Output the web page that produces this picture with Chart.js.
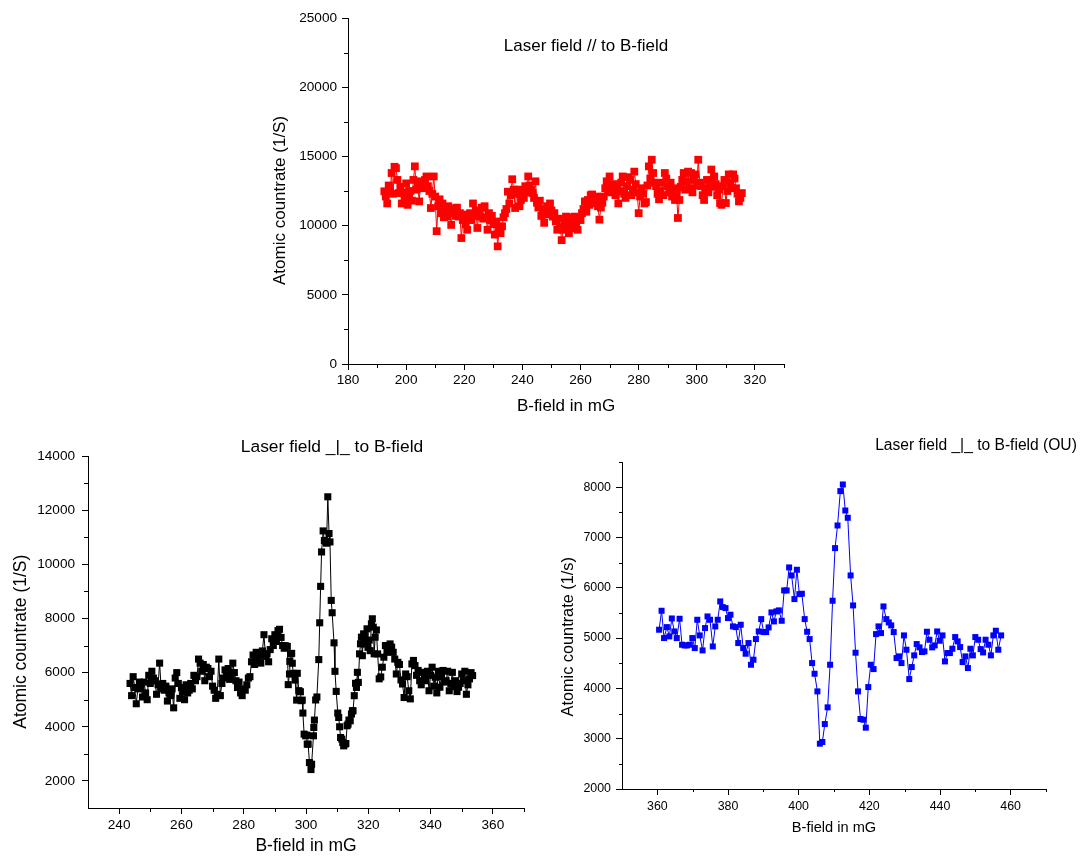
<!DOCTYPE html>
<html><head><meta charset="utf-8">
<script src="https://cdn.jsdelivr.net/npm/chart.js@4.4.1/dist/chart.umd.min.js"></script>
<style>
html,body{margin:0;padding:0;background:#fff;}
#wrap{position:relative;width:1080px;height:857px;overflow:hidden;background:#fff;}
canvas{position:absolute;}
</style></head><body>
<div id="wrap">
<canvas id="cA" width="560" height="430" style="left:250px;top:0px"></canvas>
<canvas id="cB" width="540" height="427" style="left:0px;top:430px"></canvas>
<canvas id="cC" width="540" height="427" style="left:540px;top:430px"></canvas>
</div>
<script>
// ---------- Panel 1: Laser field // to B-field ----------
const parallelField = [
192.5,193,193.5,194,194.5,195,195.5,196,196.5,197,
197.5,198,198.5,199,199.5,200,200.5,201,201.5,202,
202.5,203,203.5,204,204.5,205,205.5,206,206.5,207,
207.5,208,208.5,209,209.5,210,210.5,211,211.5,212,
212.5,213,213.5,214,214.5,215,215.5,216,216.5,217,
217.5,218,218.5,219,219.5,220,220.5,221,221.5,222,
222.5,223,223.5,224,224.5,225,225.5,226,226.5,227,
227.5,228,228.5,229,229.5,230,230.5,231,231.5,232,
232.5,233,233.5,234,234.5,235,235.5,236,236.5,237,
237.5,238,238.5,239,239.5,240,240.5,241,241.5,242,
242.5,243,243.5,244,244.5,245,245.5,246,246.5,247,
247.5,248,248.5,249,249.5,250,250.5,251,251.5,252,
252.5,253,253.5,254,254.5,255,255.5,256,256.5,257,
257.5,258,258.5,259,259.5,260,260.5,261,261.5,262,
262.5,263,263.5,264,264.5,265,265.5,266,266.5,267,
267.5,268,268.5,269,269.5,270,270.5,271,271.5,272,
272.5,273,273.5,274,274.5,275,275.5,276,276.5,277,
277.5,278,278.5,279,279.5,280,280.5,281,281.5,282,
282.5,283,283.5,284,284.5,285,285.5,286,286.5,287,
287.5,288,288.5,289,289.5,290,290.5,291,291.5,292,
292.5,293,293.5,294,294.5,295,295.5,296,296.5,297,
297.5,298,298.5,299,299.5,300,300.5,301,301.5,302,
302.5,303,303.5,304,304.5,305,305.5,306,306.5,307,
307.5,308,308.5,309,309.5,310,310.5,311,311.5,312,
312.5,313,313.5,314,314.5,315,315.5];
const parallelRate = [
12480,12100,11600,12900,12450,13800,12300,14250,14150,13300,
12350,12800,11600,12400,11850,13050,11500,12100,12500,11800,
13300,14280,12600,13000,11750,13200,12700,12950,13300,13550,
12850,12500,11270,12300,13550,12100,9600,11400,11900,10900,
11600,10600,11200,10650,11400,11100,10050,10900,11250,10700,
11300,10650,10900,9100,10400,10800,10100,9700,10500,10900,
10400,11600,10700,11100,9830,10800,10650,11300,10500,11400,
10600,9700,10900,10400,10700,10100,9350,10300,8500,9800,
9450,9950,10600,10900,11200,12450,11600,12200,13350,12600,
11270,12300,12600,11400,11850,12500,12000,12850,12400,13550,
12900,12600,12350,12000,13200,11650,11300,11800,10700,11200,
10200,11000,11400,10800,11600,11100,10650,10900,10300,9700,
10500,9900,8950,9700,10300,10650,9900,9450,10200,10600,
9800,10650,10100,9700,10500,10400,10900,11200,11750,11000,
11850,11500,12200,12250,11600,11850,12100,11400,10430,11300,
11650,12100,12700,13200,12400,13550,12900,12600,13000,12200,
12800,11600,12500,13100,13550,12300,12000,12850,13500,13300,
12200,12600,13900,13000,12400,10900,12100,12700,12300,11600,
11700,12900,14280,13400,14760,13800,13100,12850,12300,11900,
12500,13100,12200,13800,13400,12850,12400,13100,12100,12700,
11850,12400,10550,11850,12800,13300,13800,12600,13200,13900,
12700,13800,12400,13300,13700,12900,14760,13100,12850,12200,
11850,12700,13300,12400,13200,14050,12800,13550,13000,12200,
12600,11630,11500,12850,13300,11630,12500,13700,13100,12700,
13700,13400,12700,12300,11750,12000,12350];
const parallelXTicks = [180,200,220,240,260,280,300,320];
const parallelYTicks = [0,5000,10000,15000,20000,25000];

// ---------- Panel 2: Laser field _|_ to B-field ----------
const perpField = [
243.5,244,244.5,245,245.5,246,246.5,247,247.5,248,
248.5,249,249.5,250,250.5,251,251.5,252,252.5,253,
253.5,254,254.5,255,255.5,256,256.5,257,257.5,258,
258.5,259,259.5,260,260.5,261,261.5,262,262.5,263,
263.5,264,264.5,265,265.5,266,266.5,267,267.5,268,
268.5,269,269.5,270,270.5,271,271.5,272,272.5,273,
273.5,274,274.5,275,275.5,276,276.5,277,277.5,278,
278.5,279,279.5,280,280.5,281,281.5,282,282.5,283,
283.5,284,284.5,285,285.5,286,286.5,287,287.5,288,
288.5,289,289.5,290,290.5,291,291.5,292,292.5,293,
293.3,294.0,294.3,294.7,294.8,295.1,295.4,295.6,295.9,296.2,
296.5,297.0,297.2,297.7,298.2,298.5,298.8,299.0,299.4,299.9,
300.2,300.4,300.7,301.1,301.6,301.8,302.4,302.5,302.7,303.1,
303.5,304.1,304.4,304.7,305.0,305.5,305.9,306.3,306.6,307.0,
307.4,307.7,308.1,308.4,309.0,309.3,309.7,310.2,310.5,310.8,
311.1,311.5,311.8,312.1,312.5,312.8,313.2,313.5,313.8,314.2,
314.6,314.9,315.1,315.5,315.9,316.2,316.5,316.8,317.2,317.5,
317.8,318.1,318.5,318.8,319.1,319.6,319.9,320.3,320.6,321.0,
321.3,321.6,321.9,322.2,322.6,
323,323.5,324,324.5,325,325.5,326,326.5,327,327.5,
328,328.5,329,329.5,330,330.5,331,331.5,332,332.5,
333,333.5,334,334.5,335,335.5,336,336.5,337,337.5,
338,338.5,339,339.5,340,340.5,341,341.5,342,342.5,
343,343.5,344,344.5,345,345.5,346,346.5,347,347.5,
348,348.5,349,349.5,350,350.5,351,351.5,352,352.5,
353,353.5];
const perpRate = [
5600,5150,5850,5450,4850,5400,5650,5450,5100,5650,
5250,5000,5900,5600,6050,5800,5700,5200,5550,6350,
5400,5600,5350,5500,4950,5250,5150,5400,4700,5800,
6000,5600,5050,5450,5300,5000,5550,5250,5350,5600,
5400,5900,5700,5850,6500,6350,6050,6300,5700,6200,
6150,5850,6050,5500,5350,5050,5200,6500,5150,5600,
5800,6100,5950,6150,5750,5950,6350,6000,5700,5450,
5650,5250,5150,5400,5350,5550,5800,5850,6400,6650,
6300,6750,6500,6700,6350,6800,7400,6600,6700,6400,
6850,7250,7000,7400,7150,7550,7600,7300,7000,6900,
6995,6970,5556,5950,6415,6693,6711,6345,5972,5950,
5725,4985,5975,5333,5293,4963,4985,4506,3728,3665,
3691,3358,3357,2679,2420,2617,3667,3973,4247,4990,
5100,6481,7840,9185,10456,11233,10880,10852,10780,12493,
11137,10826,8667,8211,7100,6048,5307,4506,4343,4000,
3604,3542,3419,3295,3358,3381,4037,4097,4248,4220,
4470,4590,4593,5148,5604,5453,6011,5638,6693,7063,
7309,6625,7432,7057,7185,7617,6934,7200,6810,7800,
7988,7679,6693,7309,7575,
6690,5770,5840,6200,6570,7000,6750,6900,7060,6940,
6750,6500,5950,6380,6300,5730,5580,5080,5950,5850,
5330,5030,6320,6450,6260,5900,6080,5700,5550,6010,
5800,5700,6050,5330,5900,6200,5500,5830,5250,6050,
5460,5850,6080,5650,5700,6050,5330,5600,6010,5480,
5700,5300,5460,5600,5950,5700,6050,5200,5550,5770,
6000,5890];
const perpXTicks = [240,260,280,300,320,340,360];
const perpYTicks = [2000,4000,6000,8000,10000,12000,14000];

// ---------- Panel 3: Laser field _|_ to B-field (OU) ----------
const ouField = [
360.5,361.2,361.9,362.7,363.4,364.1,364.8,365.5,366.3,367.0,
367.7,368.4,369.2,369.9,370.6,371.3,372.0,372.8,373.5,374.2,
374.9,375.7,376.4,377.1,377.8,378.5,379.3,380.0,380.7,381.4,
382.2,382.9,383.6,384.3,385.0,385.8,386.5,387.2,387.9,388.7,
389.4,390.1,390.8,391.5,392.3,393.0,393.7,394.4,395.2,395.9,
396.6,397.3,398.0,398.8,399.5,400.2,400.9,401.7,402.4,403.1,
403.8,404.5,405.3,406.0,406.7,407.4,408.2,408.9,409.6,410.3,
411.0,411.8,412.5,413.2,413.9,414.7,415.4,416.1,416.8,417.5,
418.3,419.0,419.7,420.4,421.2,421.9,422.6,423.3,424.0,424.8,
425.5,426.2,426.9,427.7,428.4,429.1,429.8,430.5,431.3,432.0,
432.7,433.4,434.2,434.9,435.6,436.3,437.0,437.8,438.5,439.2,
439.9,440.7,441.4,442.1,442.8,443.5,444.3,445.0,445.7,446.4,
447.2,447.9,448.6,449.3,450.0,450.8,451.5,452.2,452.9,453.7,
454.4,455.1,455.8,456.5,457.3];
const ouRate = [
5166,5543,5000,5218,5033,5390,5132,5000,5384,4868,
4854,4854,4868,5000,4801,5364,5053,4755,5199,5430,
5364,4834,5232,5364,5728,5616,5596,5397,5464,5232,
5218,4901,5265,4801,4689,4901,4470,4570,4980,5132,
5377,5119,5119,5212,5510,5331,5530,5550,5344,5947,
5947,6404,6245,5775,6358,5874,5881,5377,5126,4980,
4503,4291,3940,2901,2934,3291,3623,4470,5742,6788,
7238,7921,8053,7536,7391,6245,5649,4709,3940,3391,
3377,3219,4026,4470,4384,5079,5232,5099,5629,5377,
5311,5252,5119,4603,4636,4503,5053,4768,4185,4424,
4656,4881,4815,4722,4735,5126,4967,4815,4854,5132,
4947,5053,4536,4702,4702,4788,5020,4934,4821,4523,
4636,4404,4788,4656,5020,4967,4781,4715,4967,4868,
4656,5053,5146,4768,5053];
const ouXTicks = [360,380,400,420,440,460];
const ouYTicks = [2000,3000,4000,5000,6000,7000,8000];

// minor ticks
const parallelXMinor = [190,210,230,250,270,290,310,330];
const parallelYMinor = [2500,7500,12500,17500,22500];
const perpXMinor = [250,270,290,310,330,350,370];
const perpYMinor = [3000,5000,7000,9000,11000,13000];
const ouXMinor = [370,390,410,430,450,470];
const ouYMinor = [2500,3500,4500,5500,6500,7500,8500];

Chart.defaults.font.family = "'Liberation Sans', Arial, Helvetica, sans-serif";
Chart.defaults.color = '#000';
const FAM = "'Liberation Sans', Arial, Helvetica, sans-serif";

const axisDecor = {
  id: 'axisDecor',
  afterDraw(chart, args, o) {
    const ctx = chart.ctx, a = chart.chartArea;
    const xs = chart.scales.x, ys = chart.scales.y;
    ctx.save();
    ctx.strokeStyle = '#000';
    ctx.lineWidth = 1;
    ctx.beginPath();
    (o.minorX || []).forEach(v => {
      const p = Math.round(xs.getPixelForValue(v)) + 0.5;
      ctx.moveTo(p, a.bottom); ctx.lineTo(p, a.bottom + o.minorLen);
    });
    (o.minorY || []).forEach(v => {
      const p = Math.round(ys.getPixelForValue(v)) + 0.5;
      ctx.moveTo(a.left - o.minorLen, p); ctx.lineTo(a.left, p);
    });
    ctx.stroke();
    if (o.title) {
      ctx.fillStyle = '#000';
      ctx.font = o.titleSize + 'px ' + FAM;
      ctx.textAlign = 'center';
      ctx.textBaseline = 'middle';
      ctx.fillText(o.title, o.titleX, o.titleY);
    }
    ctx.restore();
  }
};

function axis(c) {
  return {
    type: 'linear', min: c.min, max: c.max,
    afterFit: s => { if (c.size !== undefined) { if (s.isHorizontal()) s.height = c.size; else s.width = c.size; } },
    afterBuildTicks: s => { s.ticks = c.ticks.map(v => ({ value: v })); },
    ticks: { font: { size: c.tickSize }, padding: c.tickPad, autoSkip: false, maxRotation: 0, callback: v => String(v) },
    grid: { drawOnChartArea: false, drawTicks: true, tickLength: 6, tickColor: '#000', tickWidth: 1 },
    border: { display: true, color: '#000', width: 1 },
    title: { display: true, text: c.title, font: { size: c.titleSize }, padding: c.titlePad, color: '#000' }
  };
}

function makeChart(id, c) {
  const pts = c.xs.map((x, i) => ({ x: x, y: c.ys[i] }));
  return new Chart(document.getElementById(id), {
    type: 'line',
    data: { datasets: [{
      data: pts, borderColor: c.color, backgroundColor: c.color, borderWidth: 1,
      pointStyle: 'rect', pointRadius: c.pr, pointHoverRadius: c.pr, pointBorderWidth: 0,
      pointBackgroundColor: c.color, tension: 0, fill: false
    }] },
    options: {
      responsive: false, animation: false, devicePixelRatio: 1,
      layout: { padding: c.pad },
      plugins: { legend: { display: false }, tooltip: { enabled: false }, axisDecor: c.decor },
      scales: { x: axis(c.x), y: axis(c.y) }
    },
    plugins: [axisDecor]
  });
}

makeChart('cA', {
  xs: parallelField, ys: parallelRate, color: '#ff0000', pr: 5.5,
  pad: { left: 0, right: 26, top: 18, bottom: 0 },
  x: { min: 180, max: 330, ticks: parallelXTicks, size: 66, tickSize: 13.6, tickPad: 2.5,
       title: 'B-field in mG', titleSize: 17, titlePad: { top: 0, bottom: 13 } },
  y: { min: 0, max: 25000, ticks: parallelYTicks, size: 98, tickSize: 13.6, tickPad: 5,
       title: 'Atomic countrate (1/S)    ', titleSize: 17, titlePad: { top: 20, bottom: 0 } },
  decor: { minorX: parallelXMinor, minorY: parallelYMinor, minorLen: 4,
           title: 'Laser field // to B-field', titleSize: 17, titleX: 336, titleY: 46 }
});

makeChart('cB', {
  xs: perpField, ys: perpRate, color: '#000000', pr: 5,
  pad: { left: 0, right: 16, top: 26, bottom: 0 },
  x: { min: 230, max: 370, ticks: perpXTicks, size: 49, tickSize: 13.6, tickPad: 3,
       title: 'B-field in mG', titleSize: 17.5, titlePad: { top: 0, bottom: 0 } },
  y: { min: 1000, max: 14000, ticks: perpYTicks, size: 88, tickSize: 13.6, tickPad: 7,
       title: 'Atomic countrate (1/S)    ', titleSize: 17.5, titlePad: { top: 11, bottom: 0 } },
  decor: { minorX: perpXMinor, minorY: perpYMinor, minorLen: 4,
           title: 'Laser field _|_ to B-field', titleSize: 17.4, titleX: 332, titleY: 17 }
});

makeChart('cC', {
  xs: ouField, ys: ouRate, color: '#0000ff', pr: 4.25,
  pad: { left: 0, right: 34, top: 32, bottom: 0 },
  x: { min: 350, max: 470, ticks: ouXTicks, size: 68, tickSize: 12.4, tickPad: 4,
       title: 'B-field in mG', titleSize: 14.6, titlePad: { top: 0, bottom: 20.5 } },
  y: { min: 2000, max: 8500, ticks: ouYTicks, size: 82, tickSize: 12.4, tickPad: 5,
       title: 'Atomic countrate (1/s)     ', titleSize: 16.3, titlePad: { top: 18.4, bottom: 0 } },
  decor: { minorX: ouXMinor, minorY: ouYMinor, minorLen: 3,
           title: 'Laser field _|_ to B-field (OU)', titleSize: 15.6, titleX: 436, titleY: 16 }
});
</script>
</body></html>
